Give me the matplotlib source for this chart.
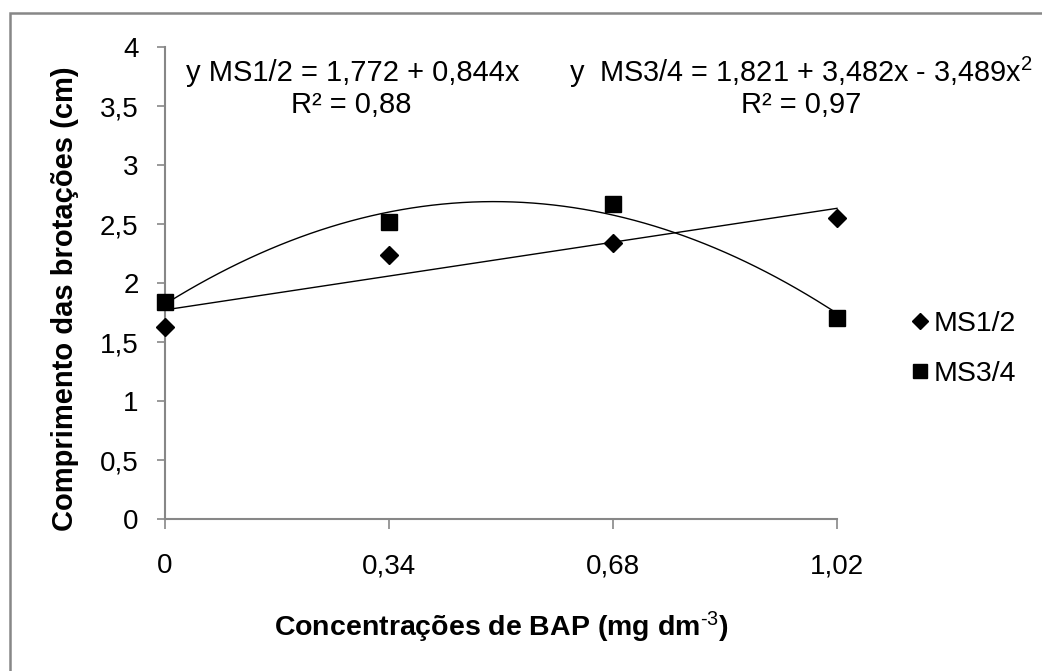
import numpy as np
import matplotlib
matplotlib.use("Agg")
import matplotlib.pyplot as plt
from matplotlib.patches import Rectangle
from matplotlib.lines import Line2D

plt.rcParams['font.family'] = ['Liberation Sans', 'DejaVu Sans']
plt.rcParams['mathtext.fontset'] = 'custom'
plt.rcParams['mathtext.rm'] = 'Liberation Sans'
plt.rcParams['mathtext.it'] = 'Liberation Sans'
plt.rcParams['mathtext.bf'] = 'Liberation Sans:bold'

# data
bap = [0, 0.34, 0.68, 1.02]
tick_labels = ['0', '0,34', '0,68', '1,02']
ms12 = [1.63, 2.24, 2.34, 2.55]
ms34 = [1.84, 2.52, 2.67, 1.70]
# trend line coefficients as printed on the chart (highest power first)
coef_ms12 = [0.844, 1.772]
coef_ms34 = [-3.489, 3.482, 1.821]
yticks = [0, 0.5, 1, 1.5, 2, 2.5, 3, 3.5, 4]
ytick_labels = ['0', '0,5', '1', '1,5', '2', '2,5', '3', '3,5', '4']

grey = '#878787'

fig = plt.figure(figsize=(10.42, 6.71), dpi=100)
fig.patches.append(Rectangle((10 / 1042, -0.1), 1.2, 1 - 13 / 671 + 0.1,
                             transform=fig.transFigure, fill=False,
                             edgecolor=grey, linewidth=1.8))

ax = fig.add_axes([165 / 1042, 1 - 519 / 671, (837 - 165) / 1042, (519 - 47) / 671])

xs = np.linspace(0, 1.02, 200)
ax.plot(xs, np.polyval(coef_ms12, xs), color='black', linewidth=1.0, clip_on=False)
ax.plot(xs, np.polyval(coef_ms34, xs), color='black', linewidth=1.0, clip_on=False)
ax.plot(bap, ms12, linestyle='none', marker='D', markersize=9.5, color='black', clip_on=False, zorder=5)
ax.plot(bap, ms34, linestyle='none', marker='s', markersize=11, color='black', clip_on=False, zorder=5)

ax.set_xlim(0, 1.02)
ax.set_ylim(0, 4)
ax.set_xticks(bap)
ax.set_xticklabels(tick_labels)
ax.set_yticks(yticks)
ax.set_yticklabels(ytick_labels)

for side in ['top', 'right']:
    ax.spines[side].set_visible(False)
for side in ['left', 'bottom']:
    ax.spines[side].set_color(grey)
    ax.spines[side].set_linewidth(1.5)

ax.tick_params(axis='y', direction='out', length=6, width=1.2, color=grey, pad=13, labelsize=20)
ax.tick_params(axis='x', direction='out', length=7.5, width=1.2, color=grey, pad=17, labelsize=20)

fig.text(501 / 1042, 1 - 627 / 671, r'Concentrações de BAP (mg dm$^{\text{-3}}$)',
         fontsize=20.5, fontweight='bold', ha='center', va='center')
fig.text(65 / 1042, 1 - 299 / 671, 'Comprimento das brotações (cm)', rotation=90,
         fontsize=21, fontweight='bold', ha='center', va='center')

fig.text(353 / 1042, 1 - 73 / 671, 'y MS1/2 = 1,772 + 0,844x', fontsize=21, ha='center', va='center')
fig.text(351 / 1042, 1 - 105 / 671, 'R² = 0,88', fontsize=21, ha='center', va='center')
fig.text(801 / 1042, 1 - 72 / 671, 'y  MS3/4 = 1,821 + 3,482x - 3,489x$^{2}$', fontsize=20.8, ha='center', va='center')
fig.text(801 / 1042, 1 - 105 / 671, 'R² = 0,97', fontsize=21, ha='center', va='center')

handles = [Line2D([], [], linestyle='none', marker='D', markersize=8, color='black'),
           Line2D([], [], linestyle='none', marker='s', markersize=10.5, color='black')]
fig.legend(handles, ['MS1/2', 'MS3/4'], loc='center left',
           bbox_to_anchor=(880 / 1042, 1 - 349 / 671), frameon=False, fontsize=20.5,
           handletextpad=0.0, handlelength=1.0, labelspacing=0.85)

fig.savefig('out.png', dpi=100)
